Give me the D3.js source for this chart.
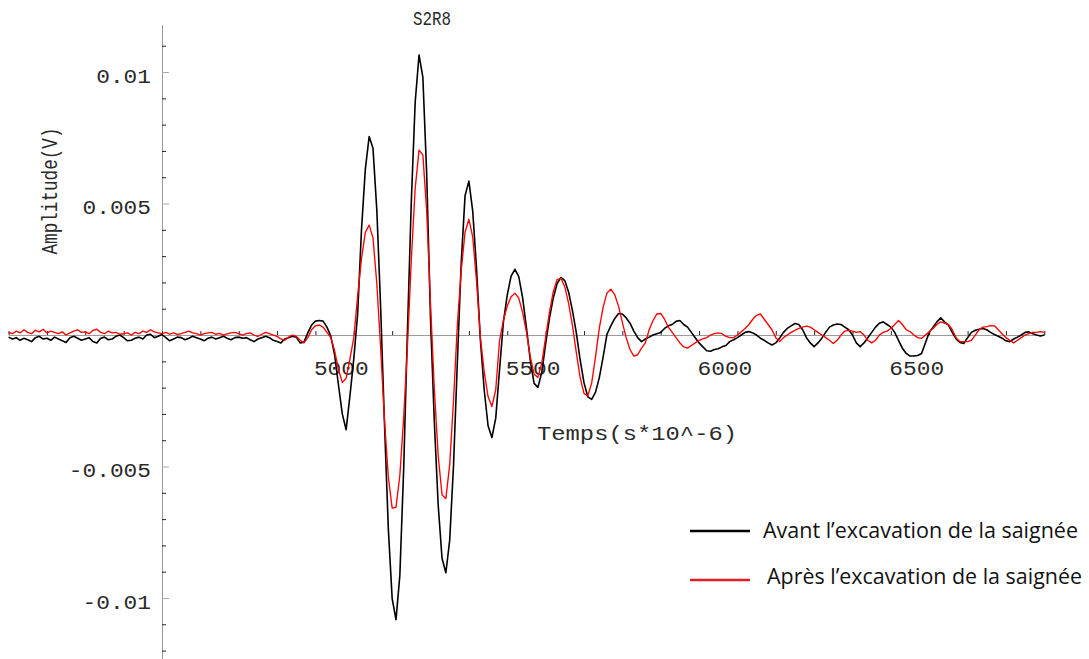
<!DOCTYPE html>
<html><head><meta charset="utf-8">
<script src="https://cdn.jsdelivr.net/npm/d3@7"></script>
<style>body{margin:0;background:#fff}svg{display:block}</style>
</head><body><svg id="c" width="1089" height="659"></svg>
<script>
// ---- data (time in s*10^-6, amplitude in V) ----
const times = d3.range(4100, 6801, 10);
const avant = [
-0.00008,-0.00015,-0.0001,-0.0002,-0.00012,-0.00018,-0.00025,-0.0001,-0.00005,-0.00015,
-0.00012,-0.0002,-0.00008,-0.00015,-0.00022,-0.00028,-0.0001,-0.00005,-0.00012,-0.0002,
-0.00015,-0.0001,-0.00025,-0.0003,-0.00012,-0.00008,-0.00018,-0.00015,-0.00005,0.0,
-0.0001,-0.00022,-0.0002,-0.00012,-0.00008,-0.00015,0.0,0.00003,-0.0001,-0.00005,
0.00002,-0.0001,-0.00022,-0.00015,-0.00008,-0.0001,-0.00018,-0.00012,-0.00005,-0.0001,
-0.00015,-0.00022,-0.00012,-0.00008,-0.00015,-0.0001,-0.00005,-0.00012,-0.00018,-0.0001,
-0.00008,-0.00012,-0.0001,-0.00018,-0.00025,-0.00015,-0.0001,-0.00005,-0.0001,-0.0002,
-0.00025,-0.0003,-0.00015,-0.0001,-0.00005,-0.00008,-0.0003,-0.00027,0.00008,0.00038,
0.00053,0.00055,0.00053,0.0003,-0.00004,-0.00076,-0.0019,-0.003,-0.0036,-0.0023,
-0.0009,0.0008,0.004,0.0063,0.00755,0.0071,0.00475,0.00103,-0.00337,-0.00737,
-0.01002,-0.01082,-0.00914,-0.00509,0.00025,0.00511,0.00885,0.01065,0.00981,0.00612,
0.00059,-0.00333,-0.00647,-0.00849,-0.00904,-0.0078,-0.00493,-0.001,0.00274,0.0053,
0.00585,0.00471,0.00251,-0.0002,-0.0021,-0.00345,-0.0039,-0.00316,-0.0013,0.0005,
0.00152,0.00224,0.0025,0.00222,0.00142,0.00028,-0.00096,-0.00184,-0.00199,-0.00142,
-0.00035,0.00063,0.00141,0.00196,0.00219,0.00207,0.00163,0.00093,0.00009,-0.00094,
-0.00181,-0.00235,-0.00245,-0.00218,-0.00162,-0.00083,0.00003,0.00035,0.00062,0.00082,
0.0008,0.00065,0.00045,0.00015,-0.0001,-0.00025,-0.00015,-0.00008,0.0,0.00005,
0.0001,0.00025,0.00035,0.0004,0.00052,0.00055,0.0004,0.0003,0.0001,-0.0001,
-0.0003,-0.00045,-0.0006,-0.00062,-0.00055,-0.00052,-0.00045,-0.0004,-0.00025,-0.00018,
-0.0001,0.0,0.0001,0.00013,0.00008,0.0,-0.00012,-0.0002,-0.0003,-0.00038,
-0.0003,-0.00012,0.0001,0.00025,0.00035,0.00044,0.0004,0.0002,-0.0001,-0.0003,
-0.00044,-0.0003,-0.00012,0.0001,0.0003,0.00038,0.00042,0.0004,0.0003,0.0002,
0.0,-0.0003,-0.00044,-0.0003,-0.0001,0.0001,0.0003,0.00045,0.0005,0.0004,
0.0003,0.0001,-0.0002,-0.0005,-0.0007,-0.0008,-0.0008,-0.00078,-0.0007,-0.0003,
0.0001,0.0003,0.0005,0.00065,0.0005,0.00038,0.0001,-0.00015,-0.00028,-0.00032,
-0.0001,0.0001,0.00018,0.00022,0.00025,0.0002,0.0001,0.00002,-0.00005,-0.00012,
-0.00022,-0.00025,-0.00015,-0.00008,0.0,0.0001,0.00012,0.00005,0.0,-0.00004,
0.0];
const apres = [
0.0001,0.00005,0.00015,0.00008,0.0002,0.0001,0.00005,0.00018,0.00012,0.00022,
0.00008,0.00015,0.0001,0.00005,0.00012,0.0,0.00008,0.00015,0.0002,0.0001,
0.00012,0.00005,0.00018,0.00022,0.0001,0.00005,0.00015,0.00008,0.0001,0.00003,
0.00005,0.00008,0.0,0.0001,0.00005,0.00015,0.0001,0.0002,0.00012,0.00008,
0.00005,0.0001,0.00003,0.00008,0.00002,0.00005,0.0001,0.00015,0.00008,0.00005,
0.0,0.00005,0.00008,0.0001,0.00003,0.00006,0.0,0.00004,0.00008,0.0001,
0.00005,0.0,0.00005,0.00008,0.0,-0.00005,0.00003,0.0001,0.00005,0.0,
-0.00005,-0.00015,-0.0002,-0.00008,0.0,-0.00005,-0.0002,-0.0003,-0.0001,0.0002,
0.00035,0.00038,0.0003,0.0001,-0.0001,-0.0006,-0.0013,-0.0018,-0.00165,-0.0009,
-0.0001,0.00148,0.0029,0.0039,0.00418,0.0037,0.00195,-0.0005,-0.00324,-0.0054,
-0.00658,-0.00655,-0.00534,-0.00314,-0.00038,0.00288,0.00557,0.00703,0.00685,0.00471,
0.00118,-0.00207,-0.00459,-0.00608,-0.00622,-0.00492,-0.00247,0.0004,0.00245,0.00391,
0.0044,0.00373,0.00203,-0.0001,-0.0014,-0.00234,-0.00272,-0.00208,-0.0002,0.00056,
0.0011,0.00146,0.00159,0.0014,0.00086,0.00012,-0.00082,-0.00149,-0.00161,-0.00107,
-0.0001,0.00086,0.00165,0.00211,0.00216,0.00183,0.0012,0.00036,-0.00066,-0.00162,
-0.00222,-0.00232,-0.00183,-0.00084,0.00026,0.00106,0.0016,0.00174,0.00154,0.0011,
0.00048,-0.0001,-0.00055,-0.0008,-0.00075,-0.0005,-0.0003,0.0002,0.00055,0.0008,
0.00082,0.0006,0.0003,0.0001,-0.0001,-0.0003,-0.00045,-0.0005,-0.0004,-0.0003,
-0.0002,-0.00015,-0.0001,0.0,0.00005,0.00008,0.00005,-0.00005,-0.0001,-0.0001,
0.0,0.00012,0.00025,0.0004,0.0006,0.00075,0.0008,0.0006,0.0004,0.0002,
-0.0001,-0.00025,-0.0001,0.0,0.0001,0.00018,0.00025,0.0003,0.00034,0.0003,
0.0002,0.0001,0.0,-0.0001,-0.0002,-0.00032,-0.0002,0.0,0.00015,0.00018,
0.00015,0.0001,0.00013,0.0,-0.0002,-0.0003,-0.0002,0.0,0.0001,0.00015,
0.00025,0.0004,0.00055,0.0004,0.0002,0.00013,0.0,-0.0001,-0.00013,0.0,
0.00012,0.00025,0.0004,0.0005,0.00045,0.0004,0.0002,-0.0001,-0.00025,-0.00025,
-0.00025,-0.0002,0.0,0.0002,0.0003,0.00032,0.00036,0.00035,0.0002,0.00005,
-0.0001,-0.0002,-0.0003,-0.0002,-0.0001,0.0,0.00005,0.0001,0.0001,0.00013,
0.0001];
const seriesNames = ["Avant l\u2019excavation de la saign\u00e9e", "Apr\u00e8s l\u2019excavation de la saign\u00e9e"];
const seriesColors = ["#000000", "#ff0000"];
const title = "S2R8";
const xTitle = "Temps(s*10^-6)";
const yTitle = "Amplitude(V)";
const xLabelValues = [5000, 5500, 6000, 6500];
const xTickValues = d3.range(4100, 6801, 100);
const yLabelValues = [-0.01, -0.005, 0.005, 0.01];
const yLabelTexts = ["-0.01", "-0.005", "0.005", "0.01"];
const yMinorValues = [-0.012,-0.011,-0.009,-0.008,-0.007,-0.006,-0.004,-0.003,-0.002,-0.001,0.001,0.002,0.003,0.004,0.006,0.007,0.008,0.009,0.011];
const xOrigin = 4500;

// ---- layout ----
const svg = d3.select("#c");
const x = d3.scaleLinear().domain([4100, 6800]).range([8.56, 1044.3]);
const y = d3.scaleLinear().domain([-0.0123, 0.0118]).range([658.5, 24.7]);
const mono = "'Liberation Mono', 'DejaVu Sans Mono', monospace";
const CW = 13.7;

// y axis: minor ticks + line
const gy = svg.append("g").attr("transform", `translate(${x(xOrigin)},0)`)
  .call(d3.axisRight(y).tickValues(yMinorValues).tickSize(4).tickSizeOuter(0).tickFormat(""));
gy.select(".domain").attr("stroke", "#9a9a9a");
gy.selectAll(".tick line").attr("stroke", "#222");
const gy2 = svg.append("g").attr("transform", `translate(${x(xOrigin)},0)`)
  .call(d3.axisRight(y).tickValues(yLabelValues).tickSize(7).tickFormat(""));
gy2.select(".domain").remove();
gy2.selectAll(".tick line").attr("stroke", "#aaa");
const gy3 = svg.append("g").attr("transform", `translate(${x(xOrigin)},0)`)
  .call(d3.axisLeft(y).tickValues(yLabelValues).tickSize(0).tickPadding(11).tickFormat((d, i) => yLabelTexts[i]));
gy3.select(".domain").remove();
gy3.selectAll("text").attr("font-family", mono).attr("font-size", 20).attr("fill", "#2a2a2a")
  .attr("dy", "0.5em")
  .attr("textLength", function(){ return this.textContent.length * CW; })
  .attr("lengthAdjust", "spacingAndGlyphs");

// x axis
const gx = svg.append("g").attr("transform", `translate(0,${y(0)})`)
  .call(d3.axisTop(x).tickValues(xTickValues).tickSize(4).tickSizeOuter(0).tickFormat(""));
gx.select(".domain").attr("stroke", "#9a9a9a");
gx.selectAll(".tick line").attr("stroke", "#222");
const gx2 = svg.append("g").attr("transform", `translate(0,${y(0)})`)
  .call(d3.axisBottom(x).tickValues(xLabelValues).tickSize(0).tickPadding(26).tickFormat(d3.format("d")));
gx2.select(".domain").remove();
gx2.selectAll("text").attr("font-family", mono).attr("font-size", 20).attr("fill", "#2a2a2a")
  .attr("dx", -13)
  .attr("textLength", function(){ return this.textContent.length * CW; })
  .attr("lengthAdjust", "spacingAndGlyphs");

// series
const line = d3.line().x((d) => x(d[0])).y((d) => y(d[1]));
[avant, apres].forEach((vals, k) => {
  const pts = vals.map((v, i) => [times[i], v]);
  svg.append("path").datum(pts).attr("d", line)
    .attr("fill", "none").attr("stroke", seriesColors[k])
    .attr("stroke-width", k === 0 ? 1.6 : 1.35).attr("stroke-linejoin", "round");
});

// titles
svg.append("text").attr("x", 413).attr("y", 25).text(title)
  .attr("font-family", mono).attr("font-size", 20).attr("fill", "#2a2a2a")
  .attr("textLength", 38).attr("lengthAdjust", "spacingAndGlyphs");
svg.append("text").attr("x", 537).attr("y", 440).text(xTitle)
  .attr("font-family", mono).attr("font-size", 20).attr("fill", "#2a2a2a")
  .attr("textLength", 200).attr("lengthAdjust", "spacingAndGlyphs");
svg.append("text").attr("transform", "translate(57,191) rotate(-90)")
  .attr("text-anchor", "middle").text(yTitle)
  .attr("font-family", mono).attr("font-size", 22).attr("fill", "#2a2a2a")
  .attr("textLength", 127).attr("lengthAdjust", "spacingAndGlyphs");

// legend
const legY = [531, 580];
const legTextX = [763, 767];
const legTextW = [315, 315];
const legBase = [538, 584];
seriesNames.forEach((name, k) => {
  svg.append("line").attr("x1", 690).attr("x2", 750).attr("y1", legY[k]).attr("y2", legY[k])
    .attr("stroke", k === 0 ? "#000" : "#e41e26").attr("stroke-width", 2.6);
  svg.append("text").attr("x", legTextX[k]).attr("y", legBase[k]).text(name)
    .attr("font-family", "'Open Sans', 'Noto Sans', sans-serif").attr("font-size", 21).attr("fill", "#111")
    .attr("textLength", legTextW[k]).attr("lengthAdjust", "spacingAndGlyphs");
});
</script></body></html>
